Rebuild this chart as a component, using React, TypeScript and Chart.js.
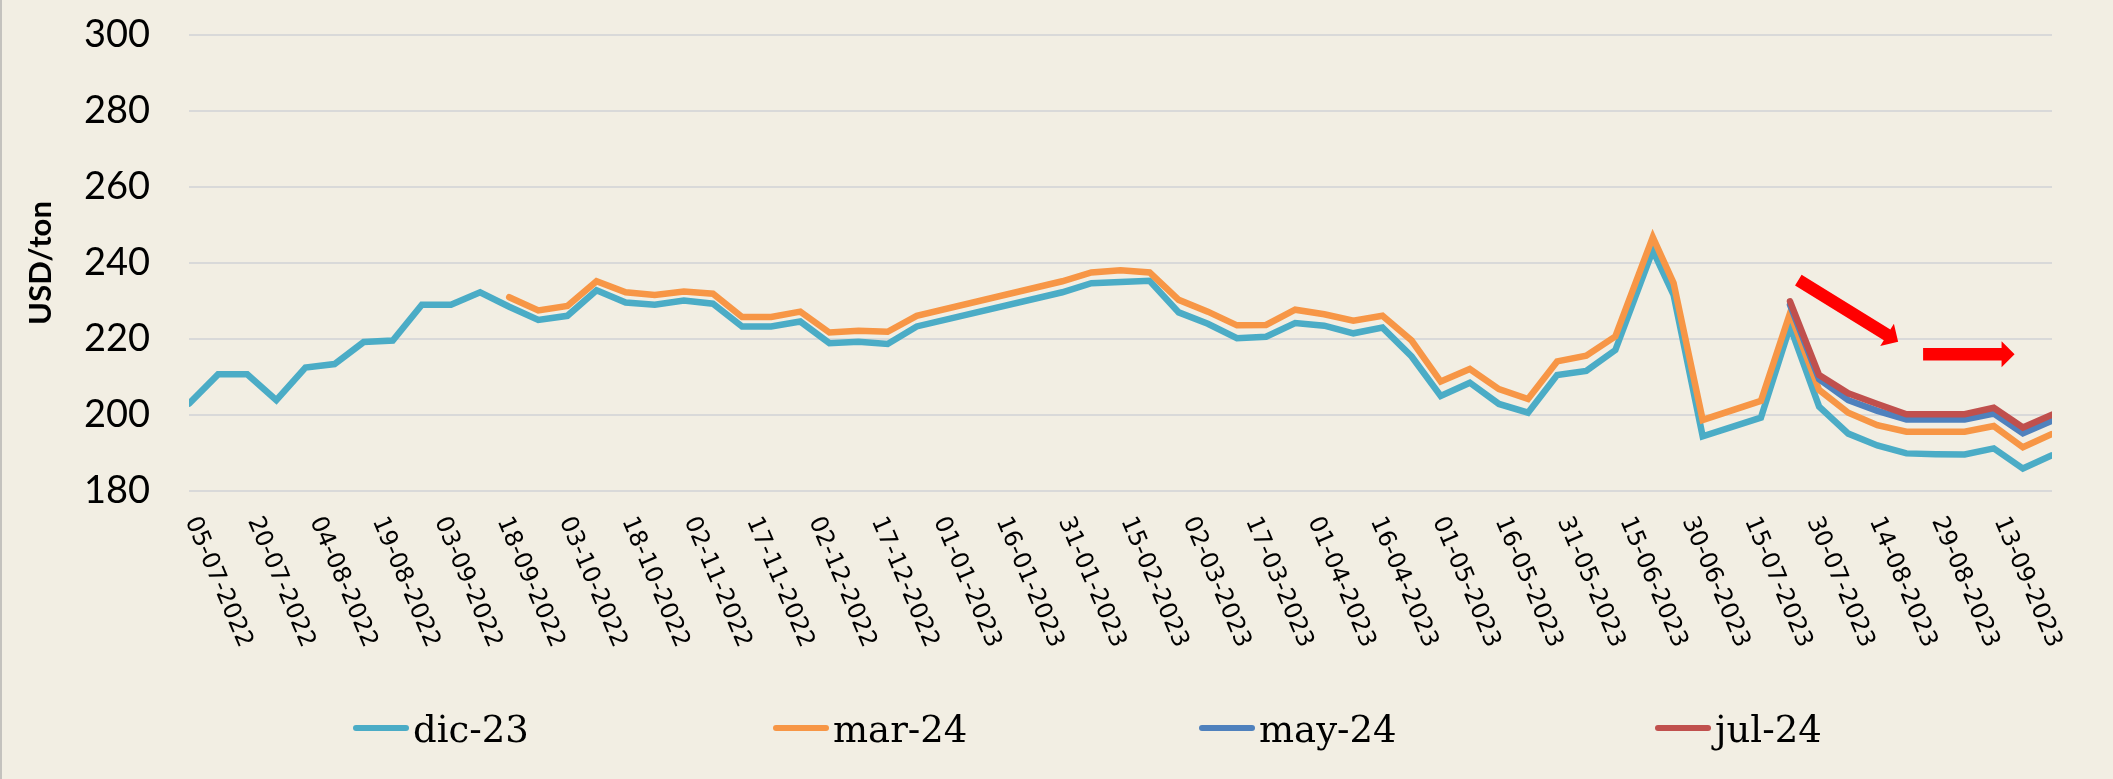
import React, { useEffect, useRef } from 'react';
import { Chart, registerables } from 'chart.js';

Chart.register(...registerables);

// ---------- data ----------
const dates = [
  '05-07-2022', '12-07-2022', '19-07-2022', '26-07-2022', '02-08-2022', '09-08-2022', '16-08-2022', '23-08-2022',
  '30-08-2022', '06-09-2022', '13-09-2022', '20-09-2022', '27-09-2022', '04-10-2022', '11-10-2022', '18-10-2022',
  '25-10-2022', '01-11-2022', '08-11-2022', '15-11-2022', '22-11-2022', '29-11-2022', '06-12-2022', '13-12-2022',
  '20-12-2022', '27-12-2022', '31-01-2023', '07-02-2023', '14-02-2023', '21-02-2023', '28-02-2023', '07-03-2023',
  '14-03-2023', '21-03-2023', '28-03-2023', '04-04-2023', '11-04-2023', '18-04-2023', '25-04-2023', '02-05-2023',
  '09-05-2023', '16-05-2023', '23-05-2023', '30-05-2023', '06-06-2023', '13-06-2023', '22-06-2023', '27-06-2023',
  '04-07-2023', '18-07-2023', '25-07-2023', '01-08-2023', '08-08-2023', '15-08-2023', '22-08-2023', '29-08-2023',
  '05-09-2023', '12-09-2023', '19-09-2023', '26-09-2023',
];

const dic23 = [
  203, 210.7, 210.7, 203.9, 212.5, 213.4, 219.2, 219.6, 229, 229,
  232.3, 228.5, 225, 226.1, 232.8, 229.6, 229, 230.1, 229.3, 223.3,
  223.3, 224.6, 218.9, 219.3, 218.7, 223.3, 232.3, 234.7, 235, 235.3,
  227, 224, 220.2, 220.6, 224.2, 223.5, 221.5, 223, 215.4, 205,
  208.5, 202.9, 200.6, 210.5, 211.6, 217.1, 243.3, 231.6, 194.4, 199.3,
  223.3, 202.2, 195.1, 192, 189.9, 189.7, 189.6, 191.2, 185.9, 189.4,
];

const mar24 = [
  null, null, null, null, null, null, null, null, null, null, null,
  231, 227.5, 228.7, 235.2, 232.3, 231.6, 232.5, 231.9, 225.8,
  225.8, 227.2, 221.7, 222.2, 221.9, 226.1, 235.2, 237.5, 238.1, 237.5,
  230.3, 227.2, 223.6, 223.7, 227.7, 226.5, 224.8, 226.1, 219.6, 208.8,
  212.1, 206.8, 204.2, 214.1, 215.6, 220.7, 246.8, 234.7, 198.7, 203.7,
  226.8, 206.6, 200.6, 197.3, 195.6, 195.6, 195.6, 197.1, 191.5, 195,
];

const may24 = [
  ...Array(50).fill(null),
  229, 209.4, 203.9, 201.1, 198.8, 198.8, 198.8, 200.4, 195.2, 198.5,
];

const jul24 = [
  ...Array(50).fill(null),
  229.9, 210.5, 205.7, 202.9, 200.2, 200.2, 200.2, 201.9, 196.7, 200.1,
];

const seriesNames = ['dic-23', 'mar-24', 'may-24', 'jul-24'];
const seriesColors = ['#4BACC6', '#F79646', '#4F81BD', '#C0504D'];

const xTickLabels = [
  '05-07-2022', '20-07-2022', '04-08-2022', '19-08-2022', '03-09-2022', '18-09-2022', '03-10-2022', '18-10-2022',
  '02-11-2022', '17-11-2022', '02-12-2022', '17-12-2022', '01-01-2023', '16-01-2023', '31-01-2023', '15-02-2023',
  '02-03-2023', '17-03-2023', '01-04-2023', '16-04-2023', '01-05-2023', '16-05-2023', '31-05-2023', '15-06-2023',
  '30-06-2023', '15-07-2023', '30-07-2023', '14-08-2023', '29-08-2023', '13-09-2023',
];

const yMin = 180;
const yMax = 300;
const yStep = 20;
const yTitle = 'USD/ton';

// annotation arrows: [date, value] -> [date, value]
const arrowFrom = [['27-07-2023', 235.5], ['26-08-2023', 216]];
const arrowTo = [['20-08-2023', 219.3], ['17-09-2023', 216]];

// ---------- layout / style constants ----------
const W = 2113;
const H = 779;
const BG = '#F2EEE3';
const LEGEND_X = [353, 773, 1199, 1655];
const LEGEND_Y = 728;

function dayIndex(s: string): number {
  const [d, m, y] = s.split('-').map(Number);
  const [d0, m0, y0] = dates[0].split('-').map(Number);
  return Math.round((Date.UTC(y, m - 1, d) - Date.UTC(y0, m0 - 1, d0)) / 86400000);
}

const bgPlugin = {
  id: 'bgPaper',
  beforeDraw(chart: any) {
    const ctx = chart.ctx;
    ctx.save();
    ctx.fillStyle = BG;
    ctx.fillRect(0, 0, chart.width, chart.height);
    ctx.fillStyle = '#C4C2BE';
    ctx.fillRect(0, 0, 2, chart.height);
    ctx.restore();
  },
};

const xLabelPlugin = {
  id: 'xRotLabels',
  afterDraw(chart: any) {
    const ctx = chart.ctx;
    const xs = chart.scales.x;
    const y0 = chart.chartArea.bottom + 27;
    ctx.save();
    ctx.font = '24px "DejaVu Sans"';
    ctx.fillStyle = '#000';
    ctx.textAlign = 'left';
    ctx.textBaseline = 'middle';
    for (const lbl of xTickLabels) {
      const px = xs.getPixelForValue(dayIndex(lbl));
      ctx.save();
      ctx.translate(px + 2, y0);
      ctx.rotate((67 * Math.PI) / 180);
      ctx.fillText(lbl, 0, 0);
      ctx.restore();
    }
    ctx.restore();
  },
};

const arrowPlugin = {
  id: 'arrows',
  afterDatasetsDraw(chart: any) {
    const ctx = chart.ctx;
    const xs = chart.scales.x;
    const ys = chart.scales.y;
    ctx.save();
    ctx.fillStyle = '#FF0000';
    for (let i = 0; i < arrowFrom.length; i++) {
      const x1 = xs.getPixelForValue(dayIndex(arrowFrom[i][0] as string));
      const y1 = ys.getPixelForValue(arrowFrom[i][1] as number);
      const x2 = xs.getPixelForValue(dayIndex(arrowTo[i][0] as string));
      const y2 = ys.getPixelForValue(arrowTo[i][1] as number);
      const len = Math.hypot(x2 - x1, y2 - y1);
      const ux = (x2 - x1) / len;
      const uy = (y2 - y1) / len;
      const nx = -uy;
      const ny = ux;
      const sw = 12.5;
      const hl = 13;
      const hw = 26;
      const bx = x2 - ux * hl;
      const by = y2 - uy * hl;
      ctx.beginPath();
      ctx.moveTo(x1 + (nx * sw) / 2, y1 + (ny * sw) / 2);
      ctx.lineTo(bx + (nx * sw) / 2, by + (ny * sw) / 2);
      ctx.lineTo(bx + (nx * hw) / 2, by + (ny * hw) / 2);
      ctx.lineTo(x2, y2);
      ctx.lineTo(bx - (nx * hw) / 2, by - (ny * hw) / 2);
      ctx.lineTo(bx - (nx * sw) / 2, by - (ny * sw) / 2);
      ctx.lineTo(x1 - (nx * sw) / 2, y1 - (ny * sw) / 2);
      ctx.closePath();
      ctx.fill();
    }
    ctx.restore();
  },
};

const legendPlugin = {
  id: 'customLegend',
  afterDraw(chart: any) {
    const ctx = chart.ctx;
    ctx.save();
    ctx.font = '37px "DejaVu Serif"';
    ctx.textAlign = 'left';
    ctx.textBaseline = 'alphabetic';
    chart.data.datasets.forEach((ds: any, i: number) => {
      const x = LEGEND_X[i];
      ctx.strokeStyle = ds.borderColor;
      ctx.lineWidth = 6;
      ctx.lineCap = 'round';
      ctx.beginPath();
      ctx.moveTo(x + 3, LEGEND_Y);
      ctx.lineTo(x + 53, LEGEND_Y);
      ctx.stroke();
      ctx.fillStyle = '#000';
      ctx.fillText(ds.label, x + 60, LEGEND_Y + 13.5);
    });
    ctx.restore();
  },
};

export default function App() {
  const canvasRef = useRef<HTMLCanvasElement | null>(null);

  useEffect(() => {
    const canvas = canvasRef.current;
    if (!canvas) return;
    const seriesValues = [dic23, mar24, may24, jul24];
    const xs = dates.map((d) => dayIndex(d));
    const datasets = seriesValues.map((vals, i) => ({
      label: seriesNames[i],
      data: vals.map((v, j) => ({ x: xs[j], y: v })),
      borderColor: seriesColors[i],
      backgroundColor: seriesColors[i],
      borderWidth: 6.5,
      pointRadius: 0,
      pointHoverRadius: 0,
      tension: 0,
      fill: false,
      borderCapStyle: 'round' as const,
      borderJoinStyle: 'miter' as const,
      order: 4 - i,
    }));

    const chart = new Chart(canvas, {
      type: 'line',
      data: { datasets },
      options: {
        responsive: false,
        animation: false,
        devicePixelRatio: 1,
        layout: { padding: { left: 0, right: 61, top: 35, bottom: 0 } },
        plugins: {
          legend: { display: false },
          tooltip: { enabled: false },
        },
        scales: {
          x: {
            type: 'linear',
            min: 0,
            max: xs[xs.length - 1],
            grid: { display: false },
            border: { display: false },
            ticks: { display: false },
            afterFit: (scale: any) => {
              scale.height = 288;
              scale.paddingLeft = 0;
              scale.paddingRight = 0;
            },
          },
          y: {
            min: yMin,
            max: yMax,
            ticks: {
              stepSize: yStep,
              color: '#000',
              padding: 39,
              font: { family: 'Lato', size: 38 },
            },
            grid: { color: '#D9D9D9', lineWidth: 2, drawTicks: false },
            border: { display: false },
            title: {
              display: true,
              text: yTitle,
              color: '#000',
              font: { family: 'Lato', size: 31, weight: 'bold' },
              padding: { top: 22, bottom: 0 },
            },
            afterFit: (scale: any) => {
              scale.width = 189;
              scale.paddingTop = 0;
              scale.paddingBottom = 0;
            },
          },
        },
      },
      plugins: [bgPlugin, arrowPlugin, xLabelPlugin, legendPlugin],
    });

    return () => chart.destroy();
  }, []);

  return (
    <div style={{ position: 'fixed', left: 0, top: 0, width: W, height: H, background: BG }}>
      <canvas ref={canvasRef} width={W} height={H} style={{ display: 'block' }} />
    </div>
  );
}
